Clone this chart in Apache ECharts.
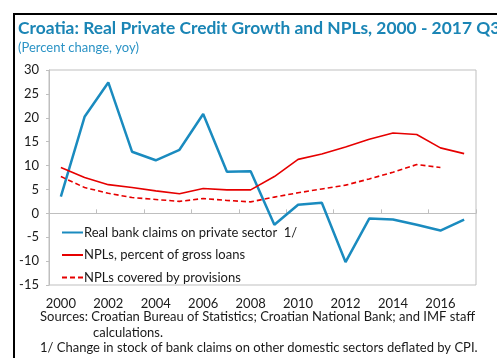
<!DOCTYPE html>
<html>
<head>
<meta charset="utf-8">
<script src="https://cdn.jsdelivr.net/npm/echarts@6/dist/echarts.min.js"></script>
<style>
  html, body { margin: 0; padding: 0; background: #fff; }
  #chart { width: 497px; height: 358px; }
</style>
</head>
<body>
<div id="chart"></div>
<script>
// Years on the category axis
const years = ['2000','2001','2002','2003','2004','2005','2006','2007','2008',
               '2009','2010','2011','2012','2013','2014','2015','2016','2017'];

// Real bank claims on private sector, % change yoy
const realClaims = [3.5, 20.2, 27.4, 12.9, 11.1, 13.3, 20.8, 8.7, 8.8,
                    -2.4, 1.8, 2.2, -10.2, -1.1, -1.3, -2.4, -3.6, -1.3];

// NPLs, percent of gross loans
const nplRatio = [9.6, 7.5, 6.0, 5.4, 4.7, 4.1, 5.2, 4.9, 4.9,
                  7.7, 11.3, 12.4, 13.9, 15.5, 16.8, 16.5, 13.7, 12.5];

// NPLs covered by provisions
const nplCovered = [7.7, 5.4, 4.2, 3.3, 2.9, 2.5, 3.1, 2.7, 2.4,
                    3.4, 4.3, 5.1, 5.9, 7.2, 8.6, 10.2, 9.6, null];

// Value-axis ticks
const yMin = -15, yMax = 30, yStep = 5;

const font = 'Lato, "Open Sans", sans-serif';
const axisGrey = '#bfbfbf';

const chart = echarts.init(document.getElementById('chart'), null, { renderer: 'canvas' });

chart.setOption({
  animation: false,
  backgroundColor: '#fff',
  textStyle: { fontFamily: font },
  graphic: [
    // black frame along the top and left edges
    { type: 'rect', left: 14, top: 13, shape: { width: 500, height: 2 }, style: { fill: '#000' }, silent: true },
    { type: 'rect', left: 13, top: 13, shape: { width: 2, height: 360 }, style: { fill: '#000' }, silent: true },
    { type: 'text', left: 18, top: 20,
      style: { text: 'Croatia: Real Private Credit Growth and NPLs, 2000 - 2017 Q3',
               fill: '#1a85b5', font: 'bold 17.4px ' + font } },
    { type: 'text', left: 18, top: 41,
      style: { text: '(Percent change, yoy)', fill: '#2b93c5', font: '13px ' + font } },
    { type: 'text', left: 40, top: 310,
      style: { text: 'Sources: Croatian Bureau of Statistics; Croatian National Bank; and IMF staff',
               fill: '#1a1a1a', font: '13px ' + font } },
    { type: 'text', left: 93, top: 326,
      style: { text: 'calculations.', fill: '#1a1a1a', font: '13px ' + font } },
    { type: 'text', left: 40, top: 341,
      style: { text: '1/ Change in stock of bank claims on other domestic sectors deflated by CPI.',
               fill: '#1a1a1a', font: '13px ' + font } }
  ],
  grid: {
    left: 49, top: 70, right: 21, bottom: 73,
    show: true, borderColor: axisGrey, borderWidth: 1, backgroundColor: 'transparent'
  },
  legend: {
    orient: 'vertical',
    left: 56, top: 221,
    itemWidth: 21, itemHeight: 14, itemGap: 9.5,
    itemStyle: { color: 'transparent', borderWidth: 0, opacity: 0 },
    textStyle: { fontFamily: font, fontSize: 13, color: '#1a1a1a', padding: [0, 0, 0, -4] },
    data: ['Real bank claims on private sector  1/', 'NPLs, percent of gross loans', 'NPLs covered by provisions']
  },
  xAxis: [
    {
      // year labels along the bottom of the plot
      type: 'category', data: years, position: 'bottom', boundaryGap: true,
      axisLine: { show: false, onZero: false },
      axisTick: { show: false },
      axisLabel: { interval: 1, margin: 12, fontSize: 13, color: '#1a1a1a', fontFamily: font }
    },
    {
      // zero line with inside tick marks
      type: 'category', data: years, position: 'bottom', boundaryGap: true,
      axisLine: { show: true, onZero: true, lineStyle: { color: axisGrey, width: 1 } },
      axisTick: { show: true, inside: true, length: 4, lineStyle: { color: axisGrey } },
      axisLabel: { show: false }
    }
  ],
  yAxis: {
    type: 'value', min: yMin, max: yMax, interval: yStep,
    axisLine: { show: true, lineStyle: { color: axisGrey } },
    axisTick: { show: true, length: 3, lineStyle: { color: axisGrey } },
    axisLabel: { fontSize: 13, color: '#1a1a1a', margin: 10, fontFamily: font },
    splitLine: { show: false }
  },
  series: [
    {
      name: 'Real bank claims on private sector  1/', type: 'line', data: realClaims,
      xAxisIndex: 0, symbol: 'none',
      lineStyle: { color: '#1a8bbf', width: 2.5 }, itemStyle: { color: '#1a8bbf' }
    },
    {
      name: 'NPLs, percent of gross loans', type: 'line', data: nplRatio,
      xAxisIndex: 0, symbol: 'none',
      lineStyle: { color: '#e60000', width: 1.6 }, itemStyle: { color: '#e60000' }
    },
    {
      name: 'NPLs covered by provisions', type: 'line', data: nplCovered,
      xAxisIndex: 0, symbol: 'none',
      lineStyle: { color: '#e60000', width: 1.6, type: [5, 3] }, itemStyle: { color: '#e60000' }
    }
  ]
});
</script>
</body>
</html>
